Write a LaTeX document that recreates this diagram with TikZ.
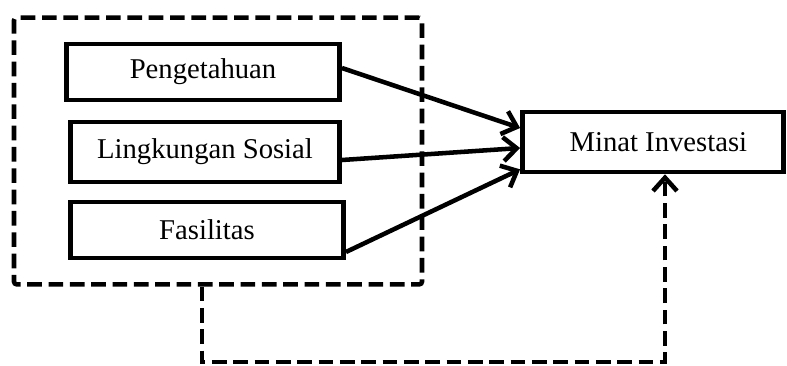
\documentclass[tikz,border=0pt]{standalone}
\usepackage{fontspec}
\setmainfont{Liberation Serif}
\usetikzlibrary{arrows.meta,calc}
\begin{document}
\begin{tikzpicture}[x=0.75pt,y=-0.75pt,
  varbox/.style={draw,line width=3.4pt,rectangle,inner sep=0pt,font=\fontsize{21.5}{24}\selectfont},
  grpbox/.style={draw,line width=3.4pt,dash pattern=on 11pt off 5pt,rounded corners=2pt,inner sep=0pt},
  link/.style={line width=3.4pt,-{Straight Barb[length=10pt,width=18pt,line width=3.4pt]}},
  feedback/.style={line width=3.4pt,dash pattern=on 11pt off 5pt,-{Straight Barb[length=10pt,width=18pt,line width=3.4pt]}}]
\useasboundingbox (0,0) rectangle (787,365);
\node[grpbox,minimum width=306pt,minimum height=200pt] (grp) at (218,151) {};
\node[varbox,minimum width=205pt,minimum height=42pt] (p) at (203,72) {Pengetahuan};
\node[varbox,minimum width=202pt,minimum height=45pt] (l) at (205,152) {Lingkungan Sosial};
\node[varbox,minimum width=205pt,minimum height=42pt] (f) at (207,230) {Fasilitas};
\node[varbox,minimum width=196pt,minimum height=45pt] (m) at (653,142) {\hspace*{8pt}Minat Investasi};
\draw[link] ([yshift=3pt]p.east) -- ([yshift=10.5pt]m.west);
\draw[link] ([yshift=-6pt]l.east) -- ([yshift=-4.5pt]m.west);
\draw[link] ([yshift=-16.5pt]f.east) -- ([yshift=-20.5pt]m.west);
\coordinate (c1) at (202,362);
\coordinate (c2) at (665,362);
\draw[feedback] ([xshift=-12pt]grp.south) -- (c1) -- (c2) -- (m.south -| c2);
\end{tikzpicture}
\end{document}
